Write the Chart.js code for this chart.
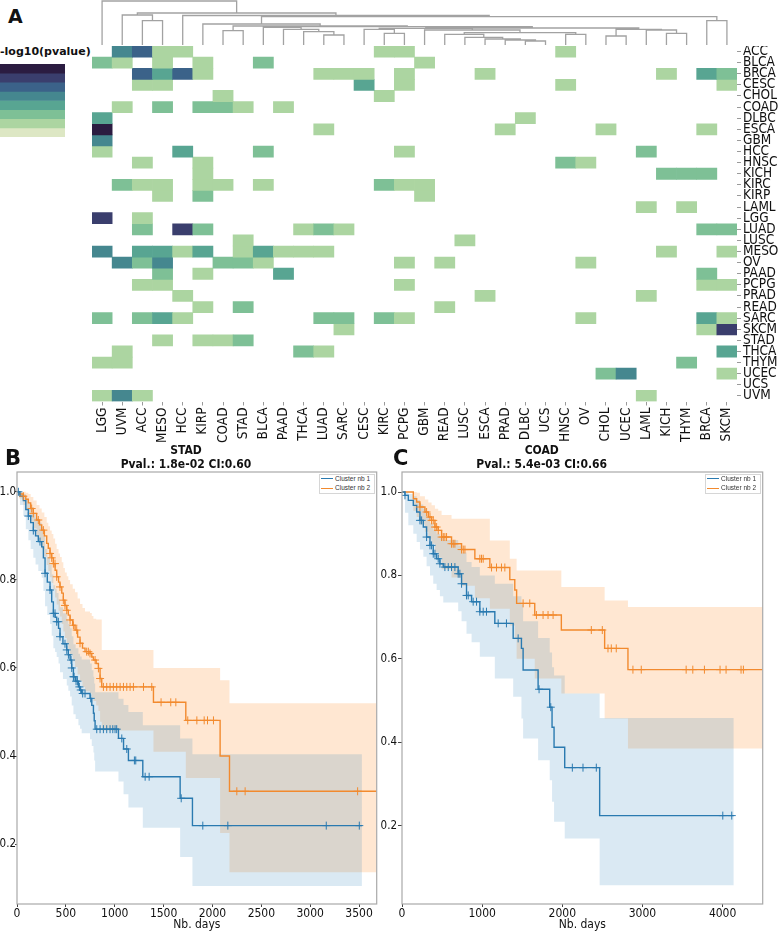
<!DOCTYPE html>
<html>
<head>
<meta charset="utf-8">
<title>Pan-cancer clusters and survival</title>
<script src="https://cdn.jsdelivr.net/npm/chart.js@4.4.1/dist/chart.umd.min.js"></script>
<style>
  html, body { margin: 0; padding: 0; background: #fff; }
  #fig { position: relative; width: 778px; height: 932px; overflow: hidden; color: #111;
         font-family: "Liberation Sans Narrow", "DejaVu Sans Condensed", "Open Sans", sans-serif; }
  #fig canvas, #fig .abs { position: absolute; }
  .letter { font-family: "DejaVu Sans", sans-serif; font-weight: bold; line-height: 1; }
  .ttl { font-weight: bold; font-size: 12px; line-height: 14px; text-align: center; white-space: nowrap; width: 200px; }
  .cbar-label { font-family: "DejaVu Sans", sans-serif; font-weight: bold; font-size: 11px; line-height: 1; white-space: nowrap; }
  .legend { background: #fff; border: 1px solid #d6d6d6; font-family: "Liberation Sans", sans-serif;
            font-size: 6.5px; line-height: 7px; color: #333; }
  .legend .sw { position: absolute; left: 1px; width: 12px; height: 0; border-top: 1.2px solid; }
  .legend .tx { position: absolute; left: 15px; white-space: nowrap; }
</style>
</head>
<body>
<div id="fig">
  <div class="abs letter" style="left:8px;top:7px;font-size:19px;">A</div>
  <div class="abs cbar-label" style="left:0;top:45.5px;">-log10(pvalue)</div>
  <canvas id="cbar" width="65" height="73" style="left:0;top:64px;"></canvas>
  <canvas id="dendro" width="645" height="45" style="left:92px;top:0;"></canvas>
  <canvas id="heat" width="686" height="406" style="left:92px;top:46px;"></canvas>

  <canvas id="kmB" width="385" height="472" style="left:0;top:460px;"></canvas>
  <canvas id="kmC" width="401" height="472" style="left:377px;top:460px;"></canvas>
  <div class="abs letter" style="left:5px;top:448px;font-size:21px;">B</div>
  <div class="abs letter" style="left:393px;top:448px;font-size:21px;">C</div>
  <div class="abs ttl" id="ttlB" style="left:86px;top:443px;"></div>
  <div class="abs ttl" id="ttlC" style="left:441.7px;top:443px;"></div>
  <div class="abs legend" id="legB" style="left:319px;top:474px;width:54px;height:18px;"></div>
  <div class="abs legend" id="legC" style="left:705px;top:474px;width:54px;height:18px;"></div>
</div>
<script>
// ---- panel A data ----
const cancerCols = ['LGG','UVM','ACC','MESO','HCC','KIRP','COAD','STAD','BLCA','PAAD','THCA','LUAD','SARC','CESC','KIRC','PCPG',
                    'GBM','READ','LUSC','ESCA','PRAD','DLBC','UCS','HNSC','OV','CHOL','UCEC','LAML','KICH','THYM','BRCA','SKCM'];
const cancerRows = ['ACC','BLCA','BRCA','CESC','CHOL','COAD','DLBC','ESCA','GBM','HCC','HNSC','KICH','KIRC','KIRP','LAML','LGG',
                    'LUAD','LUSC','MESO','OV','PAAD','PCPG','PRAD','READ','SARC','SKCM','STAD','THCA','THYM','UCEC','UCS','UVM'];

// colour level of each filled cell (1 = weakest, 7 = strongest -log10 p)
const heatCells = [
  ['ACC','UVM',4],['ACC','ACC',5],['ACC','MESO',1],['ACC','HCC',1],['ACC','KIRC',1],['ACC','PCPG',1],['ACC','HNSC',1],
  ['BLCA','LGG',2],['BLCA','UVM',1],['BLCA','MESO',1],['BLCA','KIRP',1],['BLCA','BLCA',2],['BLCA','GBM',1],
  ['BRCA','ACC',5],['BRCA','MESO',3],['BRCA','HCC',5],['BRCA','KIRP',1],['BRCA','LUAD',1],['BRCA','SARC',1],['BRCA','CESC',1],
  ['BRCA','PCPG',1],['BRCA','ESCA',1],['BRCA','KICH',1],['BRCA','BRCA',3],['BRCA','SKCM',2],
  ['CESC','ACC',1],['CESC','MESO',1],['CESC','CESC',3],['CESC','PCPG',1],['CESC','HNSC',1],['CESC','SKCM',1],
  ['CHOL','COAD',1],['CHOL','KIRC',1],
  ['COAD','UVM',1],['COAD','MESO',2],['COAD','KIRP',2],['COAD','COAD',2],['COAD','STAD',1],['COAD','PAAD',1],
  ['DLBC','LGG',3],['DLBC','DLBC',1],
  ['ESCA','LGG',7],['ESCA','LUAD',1],['ESCA','PRAD',1],['ESCA','CHOL',1],['ESCA','BRCA',1],
  ['GBM','LGG',4],
  ['HCC','LGG',1],['HCC','HCC',3],['HCC','BLCA',2],['HCC','PCPG',1],['HCC','LAML',2],
  ['HNSC','ACC',1],['HNSC','KIRP',1],['HNSC','HNSC',2],['HNSC','OV',1],
  ['KICH','KIRP',1],['KICH','KICH',2],['KICH','THYM',2],['KICH','BRCA',2],
  ['KIRC','UVM',2],['KIRC','ACC',1],['KIRC','MESO',1],['KIRC','KIRP',1],['KIRC','COAD',1],['KIRC','BLCA',1],['KIRC','KIRC',2],
  ['KIRC','PCPG',1],['KIRC','GBM',1],
  ['KIRP','MESO',1],['KIRP','KIRP',2],['KIRP','GBM',1],
  ['LAML','LAML',1],['LAML','THYM',1],
  ['LGG','LGG',6],['LGG','ACC',1],
  ['LUAD','ACC',2],['LUAD','HCC',6],['LUAD','KIRP',2],['LUAD','THCA',1],['LUAD','LUAD',2],['LUAD','SARC',1],['LUAD','BRCA',2],['LUAD','SKCM',2],
  ['LUSC','STAD',1],['LUSC','LUSC',1],
  ['MESO','LGG',4],['MESO','ACC',3],['MESO','MESO',3],['MESO','HCC',1],['MESO','KIRP',3],['MESO','STAD',1],['MESO','BLCA',3],
  ['MESO','PAAD',1],['MESO','THCA',1],['MESO','LUAD',1],['MESO','KICH',1],['MESO','SKCM',1],
  ['OV','UVM',4],['OV','ACC',2],['OV','MESO',4],['OV','COAD',2],['OV','STAD',2],['OV','BLCA',1],['OV','PCPG',1],['OV','READ',1],['OV','OV',1],
  ['PAAD','MESO',2],['PAAD','KIRP',1],['PAAD','PAAD',3],['PAAD','BRCA',2],
  ['PCPG','ACC',1],['PCPG','MESO',1],['PCPG','PCPG',1],['PCPG','BRCA',1],['PCPG','SKCM',1],
  ['PRAD','HCC',1],['PRAD','ESCA',1],['PRAD','LAML',1],
  ['READ','KIRP',1],['READ','STAD',2],['READ','READ',1],
  ['SARC','LGG',2],['SARC','ACC',2],['SARC','MESO',3],['SARC','HCC',1],['SARC','LUAD',2],['SARC','SARC',2],['SARC','KIRC',2],
  ['SARC','PCPG',1],['SARC','OV',1],['SARC','BRCA',3],['SARC','SKCM',1],
  ['SKCM','SARC',1],['SKCM','BRCA',1],['SKCM','SKCM',6],
  ['STAD','MESO',1],['STAD','KIRP',1],['STAD','COAD',1],['STAD','STAD',2],
  ['THCA','UVM',1],['THCA','THCA',2],['THCA','LUAD',1],['THCA','SKCM',3],
  ['THYM','LGG',1],['THYM','UVM',1],['THYM','THYM',2],
  ['UCEC','CHOL',2],['UCEC','UCEC',4],['UCEC','SKCM',1],
  ['UVM','LGG',1],['UVM','UVM',4],['UVM','ACC',1],['UVM','LAML',1]
];
const levelColors = [null, '#acd5a1', '#7ec096', '#58a592', '#45878f', '#3b6289', '#3a3e6d', '#2b1c41'];
const colorbarBands = ['#2b1c41', '#3a3e6d', '#3b6289', '#45878f', '#58a592', '#7ec096', '#acd5a1', '#dde7c4'];

// column dendrogram: merge k joins node linkA[k] and linkB[k] (0-31 leaves, 32+k merges) at height linkH[k]
const linkA = [30, 2, 1, 11, 10, 6, 14, 21, 20, 19, 18, 17, 23, 43, 25, 28, 27, 46, 9, 8, 16, 13, 53, 54, 51, 37, 5, 58, 4, 34, 0];
const linkB = [31, 3, 33, 12, 35, 7, 15, 22, 39, 40, 41, 42, 24, 44, 26, 29, 47, 48, 36, 50, 45, 38, 52, 49, 55, 56, 57, 32, 59, 60, 61];
const linkH = [24.3, 24.3, 30, 10, 13.3, 14.3, 11.7, 4, 5, 6, 7.7, 10.7, 10.7, 12.3, 9, 11.7, 15, 15.7, 15.7, 17.7,
               15, 15.7, 16.7, 17, 18.3, 19, 21, 28.3, 29.5, 32, 44];

// ---- panels B and C data (Kaplan-Meier) ----
const panelNames = ['STAD', 'COAD'];
const panelPval = ['1.8e-02', '5.4e-03'];
const panelCI = ['0.60', '0.66'];
const survTicks = [0.2, 0.4, 0.6, 0.8, 1.0];
const stadDayTicks = [0, 500, 1000, 1500, 2000, 2500, 3000, 3500];
const coadDayTicks = [0, 1000, 2000, 3000, 4000];

const stadT1 = [0,30,65,90,116,140,167,190,218,253,270,287,310,338,355,372,390,406,425,440,470,509,525,543,560,577,600,628,645,662,
                747,765,782,790,799,1038,1090,1140,1287,1669,1795,3529];
const stadS1 = [1,0.99,0.98,0.96,0.945,0.93,0.912,0.9,0.887,0.875,0.85,0.815,0.795,0.777,0.75,0.724,0.715,0.705,0.69,0.671,
                0.655,0.641,0.63,0.618,0.6,0.58,0.57,0.557,0.55,0.542,0.531,0.515,0.497,0.48,0.461,0.44,0.416,0.39,0.353,0.304,0.242,0.242];
const stadLo1 = [1,0.97,0.945,0.915,0.89,0.87,0.85,0.835,0.82,0.805,0.775,0.74,0.72,0.7,0.673,0.645,0.636,0.625,0.61,0.59,
                 0.575,0.56,0.548,0.535,0.515,0.495,0.484,0.47,0.462,0.452,0.438,0.423,0.408,0.39,0.365,0.342,0.313,0.283,0.237,0.171,0.105,0.105];
const stadUp1 = [1,0.998,0.995,0.985,0.975,0.965,0.95,0.94,0.93,0.92,0.9,0.87,0.852,0.835,0.812,0.788,0.78,0.77,0.756,0.738,
                 0.724,0.71,0.7,0.69,0.672,0.654,0.645,0.632,0.626,0.619,0.61,0.595,0.58,0.565,0.545,0.53,0.516,0.5,0.47,0.44,0.404,0.404];
const stadCens1 = [14,116,167,235,287,338,372,389,406,423,440,491,509,526,553,560,577,584,604,618,638,652,672,696,754,
                   816,850,884,918,952,980,1003,1020,1072,1123,1201,1215,1311,1352,1680,1901,2157,3164,3502];

const stadT2 = [0,20,65,90,116,140,167,201,230,253,280,304,320,338,355,372,390,406,425,440,458,474,490,509,525,543,570,594,620,645,
                670,696,747,765,782,810,833,850,867,1396,1727,2078,2174,3680];
const stadS2 = [1,0.995,0.99,0.983,0.975,0.962,0.951,0.936,0.925,0.913,0.9,0.883,0.872,0.86,0.85,0.837,0.822,0.807,0.795,0.784,
                0.77,0.754,0.742,0.731,0.72,0.709,0.697,0.686,0.67,0.656,0.645,0.637,0.633,0.625,0.618,0.61,0.599,0.576,0.557,0.522,
                0.481,0.4,0.32,0.32];
const stadLo2 = [1,0.985,0.97,0.958,0.947,0.93,0.917,0.898,0.885,0.87,0.853,0.834,0.82,0.806,0.793,0.778,0.76,0.744,0.73,0.717,
                 0.7,0.683,0.668,0.656,0.643,0.63,0.615,0.602,0.585,0.57,0.557,0.547,0.542,0.533,0.525,0.515,0.502,0.478,0.458,0.41,
                 0.35,0.225,0.136,0.136];
const stadUp2 = [1,1,1,0.998,0.995,0.988,0.98,0.97,0.962,0.953,0.943,0.93,0.922,0.912,0.904,0.894,0.882,0.87,0.86,0.852,
                 0.84,0.827,0.817,0.808,0.8,0.79,0.78,0.772,0.758,0.745,0.736,0.728,0.725,0.718,0.712,0.71,0.71,0.71,0.641,0.6,
                 0.6,0.572,0.52,0.52];
const stadCens2 = [65,150,167,218,270,338,355,372,389,406,440,474,491,509,543,577,611,645,713,730,747,799,833,850,884,918,952,986,
                   1020,1055,1089,1123,1157,1191,1294,1379,1474,1573,1625,1747,1840,1915,1949,2010,2249,2334,3485];

const coadT1 = [0,37,79,141,183,224,266,307,349,390,432,473,515,701,743,805,868,971,1158,1387,1490,1511,1698,1843,1872,1897,2030,2466,4139];
const coadS1 = [1,0.992,0.98,0.968,0.952,0.932,0.916,0.892,0.872,0.852,0.84,0.828,0.82,0.804,0.78,0.752,0.737,0.713,0.685,0.649,
                0.625,0.573,0.527,0.484,0.436,0.388,0.339,0.224,0.224];
const coadLo1 = [1,0.95,0.92,0.9,0.88,0.862,0.845,0.822,0.8,0.78,0.765,0.75,0.735,0.714,0.69,0.66,0.64,0.605,0.553,0.509,
                 0.457,0.409,0.357,0.309,0.257,0.209,0.169,0.057,0.057];
const coadUp1 = [1,1,0.995,0.99,0.98,0.97,0.96,0.94,0.925,0.91,0.9,0.89,0.885,0.872,0.855,0.832,0.82,0.8,0.78,0.75,
                 0.73,0.69,0.65,0.615,0.58,0.56,0.517,0.458,0.458];
const coadCens1 = [37,224,245,307,349,369,390,411,452,473,535,577,618,660,701,722,743,805,826,888,930,971,1013,1054,1200,1303,
                   1449,1710,1856,2125,2258,2424,4002,4114];

const coadT2 = [0,141,183,224,286,328,369,411,452,494,618,743,909,1096,1345,1407,1430,1656,1988,2528,2819,4500];
const coadS2 = [1,0.984,0.976,0.964,0.952,0.94,0.932,0.916,0.908,0.892,0.876,0.862,0.84,0.819,0.79,0.765,0.733,0.705,0.669,0.625,0.574,0.574];
const coadLo2 = [1,0.955,0.94,0.922,0.905,0.888,0.876,0.855,0.843,0.815,0.795,0.775,0.745,0.72,0.68,0.65,0.6,0.553,0.517,0.457,0.385,0.385];
const coadUp2 = [1,1,0.998,0.99,0.982,0.975,0.968,0.96,0.955,0.945,0.936,0.936,0.936,0.884,0.84,0.84,0.812,0.812,0.772,0.74,0.724,0.724];
const coadCens2 = [224,307,349,369,390,411,432,452,494,515,535,556,618,639,660,743,764,785,971,992,1013,1117,1179,1241,1283,
                   1511,1594,1677,1760,1822,1885,2362,2499,2570,2611,2673,2881,2985,3545,3628,3773,3968,4043,4230,4259];

// ---- styling ----
const NARROW = '"Liberation Sans Narrow", "DejaVu Sans Condensed", "Open Sans", sans-serif';
const BLUE = '#2a7ab0', ORANGE = '#f28a2e';
const BAND_BLUE = 'rgba(31,119,180,0.165)', BAND_ORANGE = 'rgba(255,127,14,0.19)';
const CLEAR = 'rgba(0,0,0,0)';

Chart.defaults.animation = false;
Chart.defaults.events = [];
Chart.defaults.plugins.legend.display = false;
Chart.defaults.plugins.tooltip.enabled = false;
Chart.defaults.font.family = NARROW;
Chart.defaults.color = '#111';

// force axis box sizes so the plot areas land where the figure has them
const fixSize = (w, h) => (s) => {
    if (w != null) s.width = w;
    if (h != null) s.height = h;
    s.paddingLeft = s.paddingRight = s.paddingTop = s.paddingBottom = 0;
};

const framePlugin = {
    id: 'frame',
    afterDraw(chart) {
        const { ctx, chartArea: a } = chart;
        ctx.save();
        ctx.strokeStyle = '#a9a9a9';
        ctx.lineWidth = 1.2;
        ctx.strokeRect(a.left, a.top, a.right - a.left, a.bottom - a.top);
        ctx.restore();
    }
};

// ---- colour bar ----
new Chart(document.getElementById('cbar'), {
    type: 'bar',
    data: {
        labels: ['p'],
        datasets: colorbarBands.map((c, i) => ({
            data: [[7 - i, 8 - i]], backgroundColor: c, borderWidth: 0,
            grouped: false, barPercentage: 1, categoryPercentage: 1
        }))
    },
    options: {
        responsive: false,
        scales: { x: { display: false }, y: { display: false, min: 0, max: 8 } }
    }
});

// ---- dendrogram ----
const nodeX = [], nodeH = [];
cancerCols.forEach((c, i) => { nodeX[i] = i; nodeH[i] = 0; });
const dendroPts = [];
linkA.forEach((a, k) => {
    const b = linkB[k], h = linkH[k];
    dendroPts.push({ x: nodeX[a], y: nodeH[a] }, { x: nodeX[a], y: h }, { x: nodeX[b], y: h }, { x: nodeX[b], y: nodeH[b] },
                   { x: nodeX[b], y: null });
    nodeX[32 + k] = (nodeX[a] + nodeX[b]) / 2;
    nodeH[32 + k] = h;
});

new Chart(document.getElementById('dendro'), {
    type: 'line',
    data: { datasets: [{ data: dendroPts, borderColor: '#a2a2a2', borderWidth: 1.3, pointRadius: 0, spanGaps: false, fill: false }] },
    options: {
        responsive: false,
        scales: {
            x: { type: 'linear', min: -0.5, max: 31.5, display: false },
            y: { type: 'linear', min: 0, max: 45, display: false }
        }
    }
});

// ---- heatmap ----
const heatLevel = cancerRows.map(() => cancerCols.map(() => 0));
heatCells.forEach(([r, c, lv]) => { heatLevel[cancerRows.indexOf(r)][cancerCols.indexOf(c)] = lv; });

const heatGrid = { display: true, offset: false, drawOnChartArea: false, drawTicks: true, tickLength: 4, color: '#9a9a9a' };

new Chart(document.getElementById('heat'), {
    type: 'bar',
    data: {
        labels: cancerCols,
        datasets: cancerRows.map((row, r) => ({
            label: row,
            data: cancerCols.map((col, c) => heatLevel[r][c] ? [r - 0.5, r + 0.5] : null),
            backgroundColor: cancerCols.map((col, c) => levelColors[heatLevel[r][c]] || CLEAR),
            borderWidth: 0, grouped: false, barPercentage: 1, categoryPercentage: 1
        }))
    },
    options: {
        responsive: false,
        scales: {
            x: {
                type: 'category', offset: true, position: 'bottom',
                grid: heatGrid, border: { display: false },
                ticks: { autoSkip: false, minRotation: 90, maxRotation: 90, padding: 2, font: { size: 13.5 }, color: '#111' },
                afterFit: fixSize(null, 50.5)
            },
            y: {
                type: 'linear', position: 'right', reverse: true, min: -0.5, max: 31.5, bounds: 'data',
                afterBuildTicks: (s) => { s.ticks = cancerRows.map((r, i) => ({ value: i })); },
                grid: heatGrid, border: { display: false },
                ticks: { autoSkip: false, padding: 2, font: { size: 13.5 }, color: '#111', callback: (v) => cancerRows[v] },
                afterFit: fixSize(41, null)
            }
        }
    }
});

// ---- survival panels ----
function stepValue(ts, vs, t) {
    let v = vs[0];
    ts.forEach((x, i) => { if (x <= t) v = vs[i]; });
    return v;
}
const toPts = (ts, vs) => ts.map((t, i) => ({ x: t, y: vs[i] }));

function survivalChart(id, p) {
    const band = (ts, vs, fillTo, color) => ({
        data: toPts(ts, vs), stepped: true, borderWidth: 0, borderColor: CLEAR, pointRadius: 0,
        fill: fillTo === null ? false : fillTo, backgroundColor: color || CLEAR, order: 2
    });
    const cens = (cs, ts, vs, color) => ({
        data: cs.map((t) => ({ x: t, y: stepValue(ts, vs, t) })), showLine: false,
        pointStyle: 'cross', pointRadius: 4, pointBorderWidth: 1, pointBorderColor: color, order: 0
    });
    return new Chart(document.getElementById(id), {
        type: 'line',
        data: {
            datasets: [
                cens(p.c1, p.t1, p.s1, BLUE),
                cens(p.c2, p.t2, p.s2, ORANGE),
                { label: 'Cluster nb 1', data: toPts(p.t1, p.s1), stepped: true, borderColor: BLUE, borderWidth: 1.4, pointRadius: 0, order: 1 },
                { label: 'Cluster nb 2', data: toPts(p.t2, p.s2), stepped: true, borderColor: ORANGE, borderWidth: 1.4, pointRadius: 0, order: 1 },
                band(p.t1, p.up1, 5, BAND_BLUE),
                band(p.t1, p.lo1, null),
                band(p.t2, p.up2, 7, BAND_ORANGE),
                band(p.t2, p.lo2, null)
            ]
        },
        options: {
            responsive: false,
            layout: { padding: p.pad },
            scales: {
                x: {
                    type: 'linear', min: 0, max: p.xMax, bounds: 'data',
                    afterBuildTicks: (s) => { s.ticks = p.xTicks.map((v) => ({ value: v })); },
                    grid: { drawOnChartArea: false, tickLength: 3, color: '#444' },
                    border: { display: false },
                    ticks: { autoSkip: false, maxRotation: 0, padding: 0, font: { size: 12 }, color: '#111',
                             callback: (v) => String(v) },
                    title: { display: true, text: 'Nb. days', font: { size: 12 }, padding: 0, color: '#111' },
                    afterFit: fixSize(null, 28)
                },
                y: {
                    type: 'linear', min: p.yMin, max: p.yMax, bounds: 'data',
                    afterBuildTicks: (s) => { s.ticks = survTicks.map((v) => ({ value: v })); },
                    grid: { drawOnChartArea: false, tickLength: p.tickLen, color: '#444' },
                    border: { display: false },
                    ticks: { padding: p.tickPad, font: { size: 11.5 }, color: '#111', callback: (v) => v.toFixed(1) },
                    afterFit: fixSize(p.yAxisW, null)
                }
            }
        },
        plugins: [framePlugin]
    });
}

survivalChart('kmB', {
    t1: stadT1, s1: stadS1, lo1: stadLo1, up1: stadUp1, c1: stadCens1,
    t2: stadT2, s2: stadS2, lo2: stadLo2, up2: stadUp2, c2: stadCens2,
    xMax: 3680, yMin: 0.064, yMax: 1.045, xTicks: stadDayTicks,
    pad: { left: 0, top: 12, right: 8.3, bottom: 0 }, yAxisW: 17, tickLen: 2, tickPad: -1
});
survivalChart('kmC', {
    t1: coadT1, s1: coadS1, lo1: coadLo1, up1: coadUp1, c1: coadCens1,
    t2: coadT2, s2: coadS2, lo2: coadLo2, up2: coadUp2, c2: coadCens2,
    xMax: 4500, yMin: 0.012, yMax: 1.048, xTicks: coadDayTicks,
    pad: { left: 0, top: 12, right: 15.3, bottom: 0 }, yAxisW: 25, tickLen: 4, tickPad: 1
});

// titles and legends
['B', 'C'].forEach((k, i) => {
    document.getElementById('ttl' + k).innerHTML = panelNames[i] + '<br>Pval.: ' + panelPval[i] + ' CI:' + panelCI[i];
    document.getElementById('leg' + k).innerHTML =
        '<div class="sw" style="top:3.2px;border-color:' + BLUE + '"></div><div class="tx" style="top:0px">Cluster nb 1</div>' +
        '<div class="sw" style="top:12.5px;border-color:' + ORANGE + '"></div><div class="tx" style="top:9.3px">Cluster nb 2</div>';
});
</script>
</body>
</html>
